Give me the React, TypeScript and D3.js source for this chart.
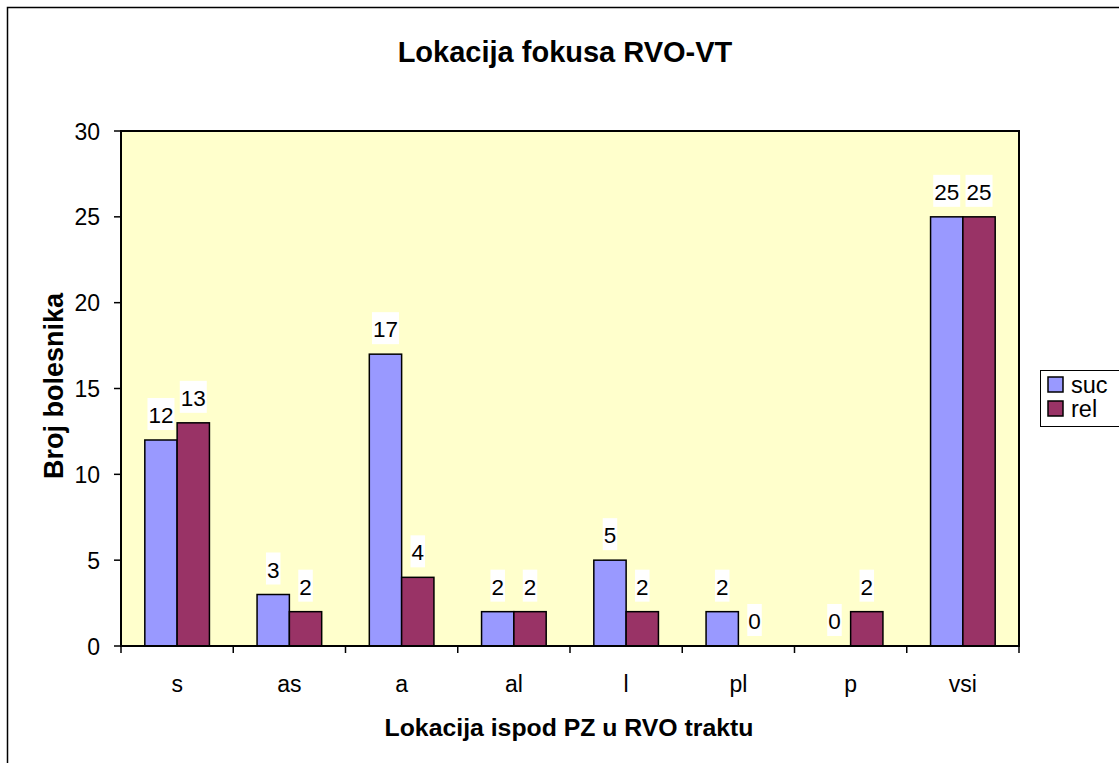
import React from "react";
import * as d3 from "d3";

const categories = ["s", "as", "a", "al", "l", "pl", "p", "vsi"];
const seriesNames = ["suc", "rel"];
const sucValues = [12, 3, 17, 2, 5, 2, 0, 25];
const relValues = [13, 2, 4, 2, 2, 0, 2, 25];
const yTicks = [0, 5, 10, 15, 20, 25, 30];
const seriesColors = ["#9999FF", "#993366"];
const title = "Lokacija fokusa RVO-VT";
const xTitle = "Lokacija ispod PZ u RVO traktu";
const yTitle = "Broj bolesnika";

const W = 1119;
const H = 763;
const plot = { left: 121, right: 1019, top: 131, bottom: 646 };
const FONT = "'Liberation Sans', Arial, sans-serif";

export default function App() {
  const x = d3.scaleBand<string>().domain(categories).range([plot.left, plot.right]).paddingInner(0).paddingOuter(0);
  const inner = d3
    .scaleBand<string>()
    .domain(seriesNames)
    .range([0, x.bandwidth()])
    .paddingOuter(0.737)
    .paddingInner(0);
  const y = d3.scaleLinear().domain([0, 30]).range([plot.bottom, plot.top]);
  const series = [sucValues, relValues];

  return (
    <svg width={W} height={H} style={{ position: "absolute", left: 0, top: 0, background: "#fff" }} fontFamily={FONT}>
      <rect x={7.5} y={7.5} width={W + 20} height={H + 20} fill="#fff" stroke="#000" strokeWidth={1.5} />
      <text x={565} y={62} textAnchor="middle" fontSize={29} fontWeight="bold">
        {title}
      </text>
      <rect x={plot.left} y={plot.top} width={plot.right - plot.left} height={plot.bottom - plot.top} fill="#FFFFCC" />
      {series.map((vals, si) =>
        categories.map((c, ci) => {
          const v = vals[ci];
          const bx = (x(c) as number) + (inner(seriesNames[si]) as number);
          const bw = inner.bandwidth();
          return (
            <g key={`${si}-${ci}`}>
              {v > 0 && (
                <rect x={bx} y={y(v)} width={bw} height={y(0) - y(v)} fill={seriesColors[si]} stroke="#000" strokeWidth={1.5} />
              )}
            </g>
          );
        })
      )}
      {series.map((vals, si) =>
        categories.map((c, ci) => {
          const v = vals[ci];
          const cx = (x(c) as number) + (inner(seriesNames[si]) as number) + inner.bandwidth() / 2;
          const label = String(v);
          const tw = label.length * 12.5 + 2;
          return (
            <g key={`l${si}-${ci}`}>
              <rect x={cx - tw / 2} y={y(v) - 42} width={tw} height={32} fill="#fff" />
              <text x={cx} y={y(v) - 17} textAnchor="middle" fontSize={22.5}>
                {label}
              </text>
            </g>
          );
        })
      )}
      <rect x={plot.left} y={plot.top} width={plot.right - plot.left} height={plot.bottom - plot.top} fill="none" stroke="#000" strokeWidth={2} />
      {yTicks.map((t) => (
        <g key={`yt${t}`}>
          <line x1={plot.left - 7} x2={plot.left} y1={y(t)} y2={y(t)} stroke="#000" strokeWidth={1.5} />
          <text x={plot.left - 21} y={y(t) + 8.5} textAnchor="end" fontSize={23}>
            {t}
          </text>
        </g>
      ))}
      {categories.concat(["__end"]).map((c, i) => {
        const xx = i < categories.length ? (x(c) as number) : plot.right;
        return <line key={`xt${i}`} x1={xx} x2={xx} y1={plot.bottom} y2={plot.bottom + 7} stroke="#000" strokeWidth={1.5} />;
      })}
      {categories.map((c) => (
        <text key={`xl${c}`} x={(x(c) as number) + x.bandwidth() / 2} y={692} textAnchor="middle" fontSize={23}>
          {c}
        </text>
      ))}
      <text x={569} y={736} textAnchor="middle" fontSize={24.8} fontWeight="bold">
        {xTitle}
      </text>
      <text transform={`translate(63,386) rotate(-90)`} textAnchor="middle" fontSize={27} fontWeight="bold">
        {yTitle}
      </text>
      <rect x={1040.5} y={370.5} width={100} height={56} fill="#fff" stroke="#000" strokeWidth={1} />
      {seriesNames.map((s, i) => (
        <g key={`lg${s}`}>
          <rect x={1048} y={377 + i * 24} width={15} height={15} fill={seriesColors[i]} stroke="#000" strokeWidth={1.5} />
          <text x={1071} y={393 + i * 24} fontSize={23.5}>
            {s}
          </text>
        </g>
      ))}
    </svg>
  );
}
